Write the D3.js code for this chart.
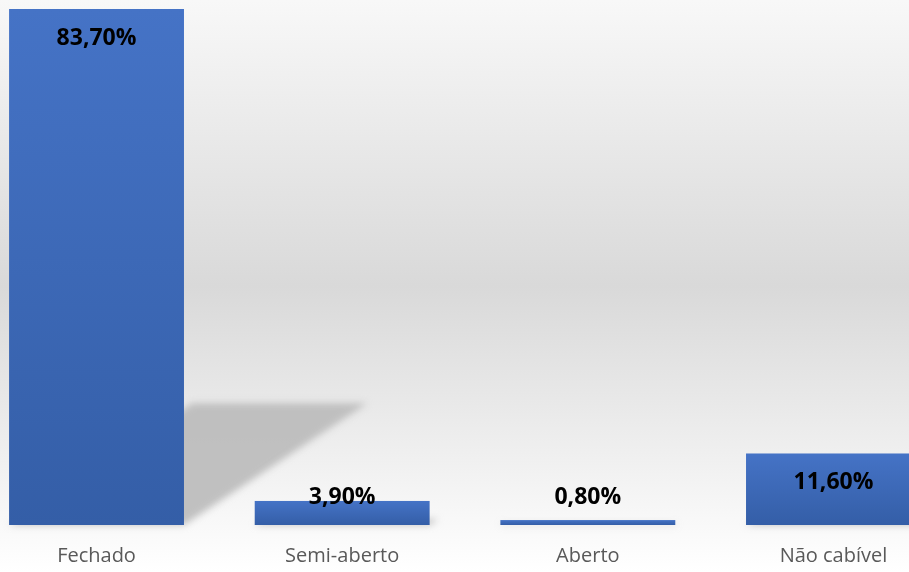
<!DOCTYPE html>
<html><head><meta charset="utf-8">
<script src="https://cdn.jsdelivr.net/npm/d3@7"></script>
<style>html,body{margin:0;padding:0;overflow:hidden;background:#fff}</style>
</head><body>
<script>
const categories = ["Fechado", "Semi-aberto", "Aberto", "Não cabível"];
const values = [83.7, 3.9, 0.8, 11.6];
const valueLabels = ["83,70%", "3,90%", "0,80%", "11,60%"];

const W = 909, H = 572;
const svg = d3.select("body").append("svg").attr("width", W).attr("height", H);
const defs = svg.append("defs");

const bg = defs.append("linearGradient").attr("id", "bg").attr("x1", 0).attr("y1", 0).attr("x2", 0).attr("y2", 1);
bg.append("stop").attr("offset", "0%").attr("stop-color", "#f8f8f8");
bg.append("stop").attr("offset", "50%").attr("stop-color", "#d9d9d9");
bg.append("stop").attr("offset", "100%").attr("stop-color", "#ffffff");

const bar = defs.append("linearGradient").attr("id", "bar").attr("x1", 0).attr("y1", 0).attr("x2", 0).attr("y2", 1);
bar.append("stop").attr("offset", "0%").attr("stop-color", "#4573c6");
bar.append("stop").attr("offset", "100%").attr("stop-color", "#345ea7");

defs.append("filter").attr("id", "blur").attr("x", "-20%").attr("y", "-20%").attr("width", "140%").attr("height", "140%")
  .append("feGaussianBlur").attr("stdDeviation", 3.5);

svg.append("rect").attr("width", W).attr("height", H).attr("fill", "url(#bg)");

const x = d3.scaleBand().domain(categories).range([-26.3, 956.3]).paddingInner(0.288).paddingOuter(0.144);
const y = d3.scaleLinear().domain([0, 83.7]).range([525, 9]);

const data = categories.map((c, i) => ({c, v: values[i], t: valueLabels[i]}));

// perspective shadows
svg.append("g").attr("filter", "url(#blur)").selectAll("path").data(data).join("path")
  .attr("fill", "#bdbdbd").attr("opacity", 0.95)
  .attr("d", d => {
    const x0 = x(d.c), x1 = x0 + x.bandwidth(), yb = y(0);
    const h = yb - y(d.v);
    const dy = h * 0.236, dx = h * 0.355;
    return `M${x0},${yb}L${x1},${yb}L${x1 + dx},${yb - dy}L${x0 + dx},${yb - dy}Z`;
  });

svg.append("g").selectAll("rect").data(data).join("rect")
  .attr("x", d => x(d.c)).attr("width", x.bandwidth())
  .attr("y", d => y(d.v)).attr("height", d => y(0) - y(d.v))
  .attr("fill", "url(#bar)");

svg.append("g").selectAll("text").data(data).join("text")
  .attr("x", d => x(d.c) + x.bandwidth() / 2)
  .attr("y", d => Math.min(y(d.v) + 36, 504))
  .attr("text-anchor", "middle")
  .attr("font-family", "'Open Sans', sans-serif").attr("font-weight", "bold").attr("font-size", 23)
  .attr("fill", "#000").text(d => d.t);

svg.append("g").selectAll("text").data(data).join("text")
  .attr("x", d => x(d.c) + x.bandwidth() / 2)
  .attr("y", 562)
  .attr("text-anchor", "middle")
  .attr("font-family", "'Open Sans', sans-serif").attr("font-size", 20)
  .attr("fill", "#595959").text(d => d.c);
</script>
</body></html>
